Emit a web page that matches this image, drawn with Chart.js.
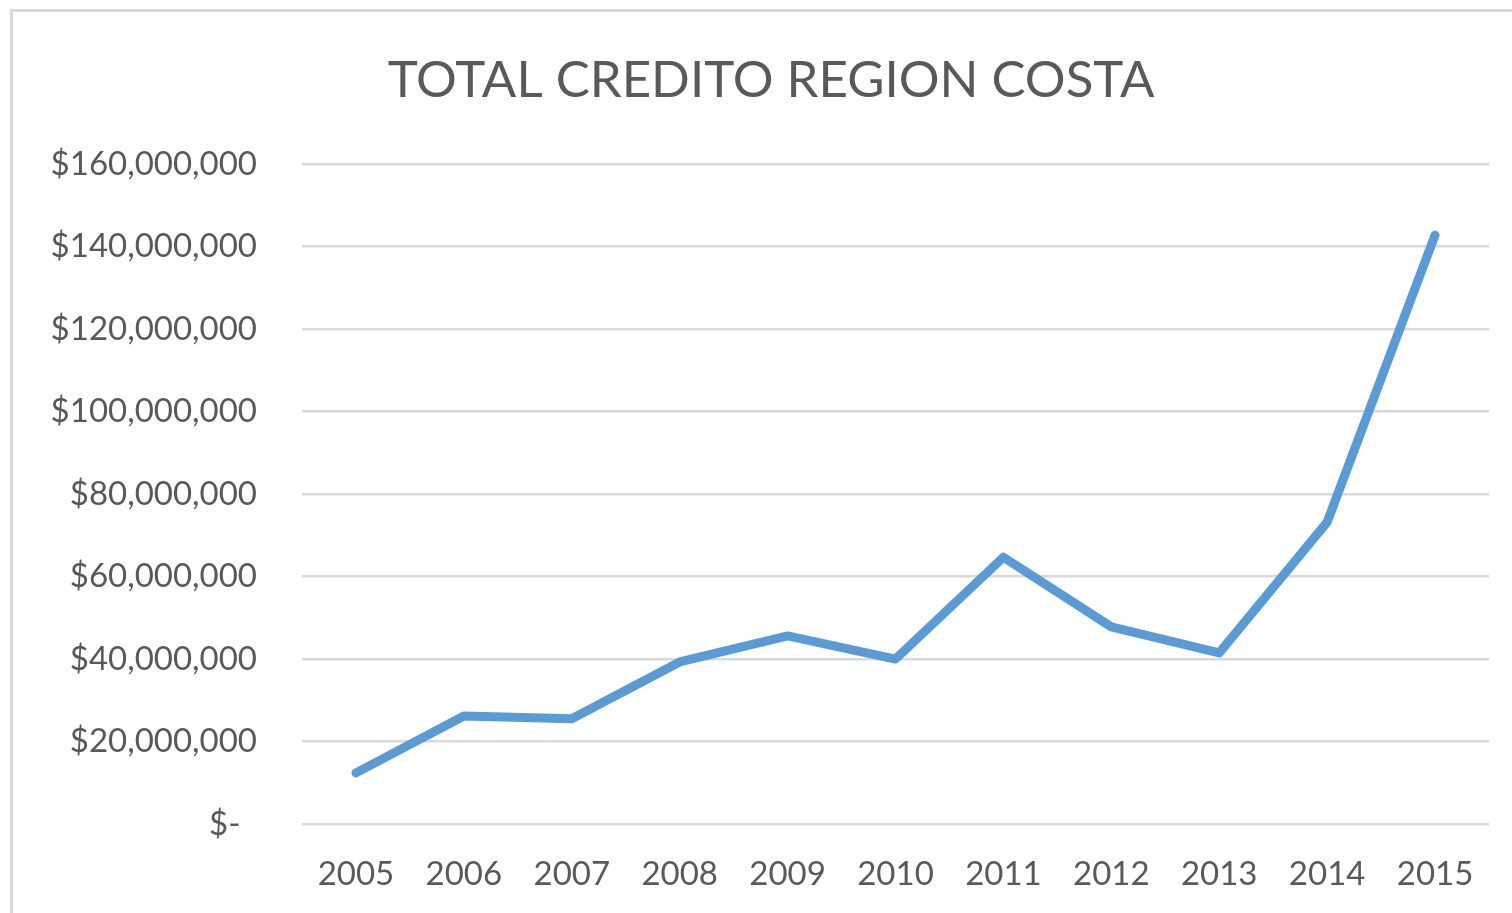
<!DOCTYPE html>
<html>
<head>
<meta charset="utf-8">
<script src="https://cdn.jsdelivr.net/npm/chart.js@4.4.1/dist/chart.umd.min.js"></script>
<style>
  html, body { margin: 0; padding: 0; background: #fff; overflow: hidden; }
  #frame { position: absolute; left: 10px; top: 9px; width: 1600px; height: 1000px;
           border: 3px solid #d9d9d9; box-sizing: border-box; }
  #wrap { position: absolute; left: 0; top: 0; width: 1512px; height: 913px; }
</style>
</head>
<body>
<div id="frame"></div>
<div id="wrap"><canvas id="chart"></canvas></div>
<script>
// datos
var years = ["2005", "2006", "2007", "2008", "2009", "2010", "2011", "2012", "2013", "2014", "2015"];
var totalCredito = [12400000, 26200000, 25500000, 39300000, 45600000, 40000000, 64700000, 47800000, 41500000, 73200000, 142800000];
var yTicks = [0, 20000000, 40000000, 60000000, 80000000, 100000000, 120000000, 140000000, 160000000];
var yTickLabels = ["$-\u2002", "$20,000,000", "$40,000,000", "$60,000,000", "$80,000,000",
                   "$100,000,000", "$120,000,000", "$140,000,000", "$160,000,000"];

var gris = "#595959";

new Chart(document.getElementById("chart"), {
  type: 'line',
  data: {
    labels: years,
    datasets: [{
      label: "Total credito",
      data: totalCredito,
      borderColor: "#5b9bd5",
      backgroundColor: "#5b9bd5",
      borderWidth: 9,
      borderCapStyle: 'round',
      borderJoinStyle: 'round',
      pointRadius: 0,
      tension: 0,
      fill: false
    }]
  },
  options: {
    responsive: true,
    maintainAspectRatio: false,
    animation: false,
    layout: { padding: { left: 40, right: 23, top: 0, bottom: 0 } },
    plugins: {
      legend: { display: false },
      tooltip: { enabled: false },
      title: {
        display: true,
        text: ' TOTAL CREDITO REGION COSTA',
        color: gris,
        font: { family: 'Lato', size: 51, weight: 'normal' },
        padding: { top: 50, bottom: 53 }
      }
    },
    scales: {
      x: {
        offset: true,
        grid: { display: false },
        border: { display: false },
        ticks: { color: gris, font: { family: 'Lato', size: 33 }, padding: 23, maxRotation: 0 },
        afterFit: function (s) { s.height = 89; }
      },
      y: {
        min: 0,
        max: 160000000,
        afterBuildTicks: function (s) { s.ticks = yTicks.map(function (v) { return { value: v }; }); },
        grid: { color: "#d9d9d9", lineWidth: 2.5, drawTicks: false },
        border: { display: false },
        ticks: {
          color: gris,
          font: { family: 'Lato', size: 33 },
          padding: 45,
          callback: function (v) { return yTickLabels[yTicks.indexOf(v)]; }
        },
        afterFit: function (s) { s.width = 262; }
      }
    }
  }
});
</script>
</body>
</html>
